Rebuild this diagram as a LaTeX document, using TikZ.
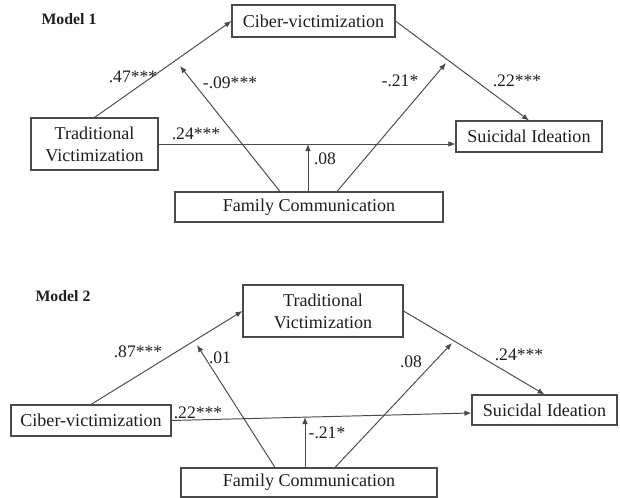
\documentclass[tikz,border=0pt]{standalone}
\usepackage{fontspec}
\setmainfont{Liberation Serif}
\definecolor{mLine}{HTML}{4A4A4A}
\definecolor{mText}{HTML}{1E1E1E}
\usetikzlibrary{arrows.meta, calc, positioning}
\tikzset{
  box/.style={
    rectangle, draw=mLine, line width=0.6pt, text=mText, inner sep=0pt, align=center,
    font=\fontsize{10.3}{12.5}\selectfont
  },
  coef/.style={
    text=mText, inner sep=0pt, font=\fontsize{10}{12}\selectfont
  },
  title/.style={
    text=mText, inner sep=0pt, font=\fontsize{9}{11}\selectfont\bfseries
  },
  link/.style={
    draw=mLine, line width=0.55pt, -{Latex[length=4pt,width=3.2pt]}
  }
}

\begin{document}
\begin{tikzpicture}[x=0.02cm, y=-0.02cm]
        \useasboundingbox (0,0) rectangle (620,498);
        % Model 1
        \node[title] (t1) at (69,19) {Model 1};
        \node[box, minimum width=3.26cm, minimum height=0.64cm] (cv1) at (313.5,21) {Ciber-victimization};
        \node[box, minimum width=2.54cm, minimum height=1.04cm] (tv1) at (94.5,144) {Traditional\\Victimization};
        \node[box, minimum width=2.92cm, minimum height=0.62cm] (si1) at (529,136.5) {Suicidal Ideation};
        \node[box, minimum width=5.36cm, minimum height=0.6cm] (fc1) at (309,207) {Family Communication};
        \coordinate (m1a) at (180,66);
        \coordinate (m1b) at (446,63);
        \coordinate (m1c) at (308,144);
        \draw[link] (tv1.north) -- (cv1.west);
        \draw[link] (cv1.east) -- (si1.north);
        \draw[link] (tv1.east) -- (tv1.east -| si1.west);
        \draw[link] ($(fc1.north)+(-29,0)$) -- (m1a);
        \draw[link] ($(fc1.north)+(28,0)$) -- (m1b);
        \draw[link] (m1c |- fc1.north) -- (m1c);
        \node[coef] (n0) at (133,77) {.47***};
        \node[coef] (n1) at (230,83) {-.09***};
        \node[coef] (n2) at (196,134) {.24***};
        \node[coef] (n3) at (325,159) {.08};
        \node[coef] (n4) at (400,81) {-.21*};
        \node[coef] (n5) at (517,81) {.22***};
        % Model 2
        \node[title] (t2) at (63,296) {Model 2};
        \node[box, minimum width=3.2cm, minimum height=1.04cm] (tv2) at (323,311) {Traditional\\Victimization};
        \node[box, minimum width=3.2cm, minimum height=0.62cm] (cv2) at (91,420.5) {Ciber-victimization};
        \node[box, minimum width=2.9cm, minimum height=0.6cm] (si2) at (544.5,410) {Suicidal Ideation};
        \node[box, minimum width=5.12cm, minimum height=0.58cm] (fc2) at (309,482.5) {Family Communication};
        \coordinate (m2a) at (197,345);
        \coordinate (m2b) at (452,343);
        \coordinate (m2c) at (305,417);
        \draw[link] (cv2.north) -- (tv2.west);
        \draw[link] (tv2.east) -- (si2.north);
        \draw[link] (cv2.east) -- ($(si2.west)+(0,3)$);
        \draw[link] ($(fc2.north)+(-34,0)$) -- (m2a);
        \draw[link] ($(fc2.north)+(26,0)$) -- (m2b);
        \draw[link] (m2c |- fc2.north) -- (m2c);
        \node[coef] (n6) at (138,352) {.87***};
        \node[coef] (n7) at (220,358) {.01};
        \node[coef] (n8) at (198,413) {.22***};
        \node[coef] (n9) at (327,433) {-.21*};
        \node[coef] (n10) at (411,362) {.08};
        \node[coef] (n11) at (519,355) {.24***};
    \end{tikzpicture}
\end{document}
